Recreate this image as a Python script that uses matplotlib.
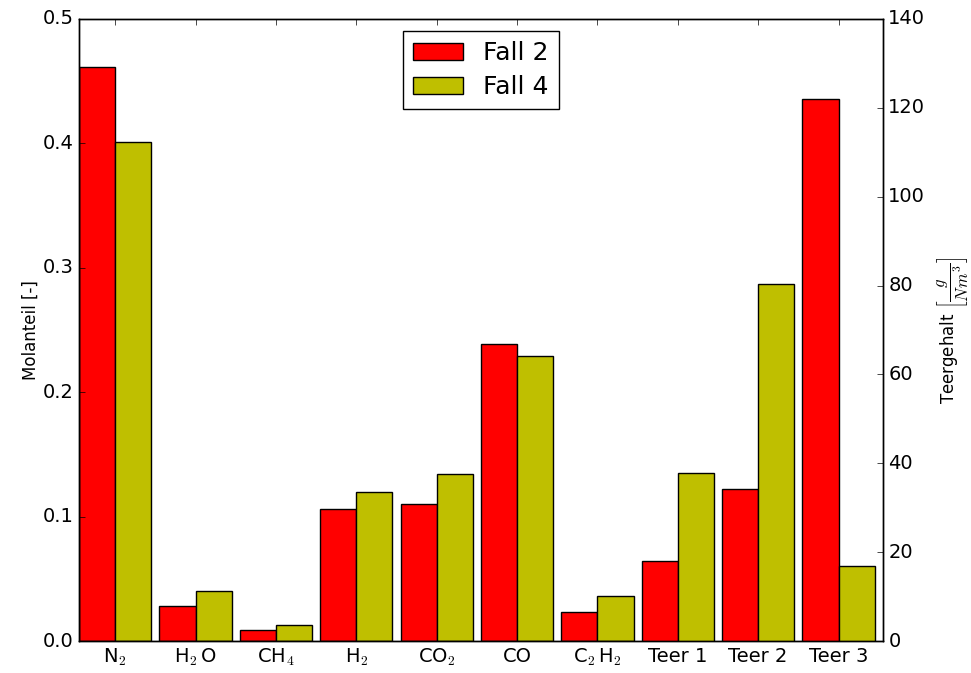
import numpy as np
import matplotlib
matplotlib.use('Agg')
import matplotlib.pyplot as plt

plt.style.use('classic')

# Gas composition (mole fractions), left axis
gases = ['N$_2$', 'H$_2\\,$O', 'CH$_4$', 'H$_2$', 'CO$_2$', 'CO', 'C$_2\\,$H$_2$']
gas_fall2 = [0.461, 0.028, 0.009, 0.106, 0.110, 0.239, 0.023]
gas_fall4 = [0.401, 0.040, 0.013, 0.120, 0.134, 0.229, 0.036]

# Tar content in g/Nm^3, right axis
tars = ['Teer 1', 'Teer 2', 'Teer 3']
tar_fall2 = [18.0, 34.2, 122.0]
tar_fall4 = [37.8, 80.4, 16.8]

width = 0.45

fig = plt.figure(figsize=(9.71, 6.73), facecolor='white')
ax = fig.add_axes([0.0814, 0.0475, 0.8277, 0.9243])
ax2 = ax.twinx()

x_gas = np.arange(len(gases))
x_tar = np.arange(len(tars)) + len(gases)

b1 = ax.bar(x_gas, gas_fall2, width, align='edge', color='r', edgecolor='k', label='Fall 2')
b2 = ax.bar(x_gas + width, gas_fall4, width, align='edge', color='y', edgecolor='k', label='Fall 4')
ax2.bar(x_tar, tar_fall2, width, align='edge', color='r', edgecolor='k')
ax2.bar(x_tar + width, tar_fall4, width, align='edge', color='y', edgecolor='k')

ax.set_xlim(0, len(gases) + len(tars))
ax.set_ylim(0, 0.5)
ax2.set_ylim(0, 140)
ax.set_yticks(np.arange(0, 0.51, 0.1))
ax2.set_yticks(np.arange(0, 141, 20))

ax.set_xticks(np.concatenate([x_gas, x_tar]) + width)
ax.set_xticklabels(gases + tars)

ax.tick_params(labelsize=14)
ax2.tick_params(labelsize=14)

ax.set_ylabel('Molanteil [-]', fontsize=12, labelpad=2)
ax2.set_ylabel(r'Teergehalt $\left[\dfrac{g}{Nm^3}\right]$', fontsize=12, labelpad=6)

ax2.legend([b1, b2], ['Fall 2', 'Fall 4'], loc='upper center', fontsize=18,
           labelspacing=0.4)

fig.savefig('out.png', dpi=100, facecolor='white')
